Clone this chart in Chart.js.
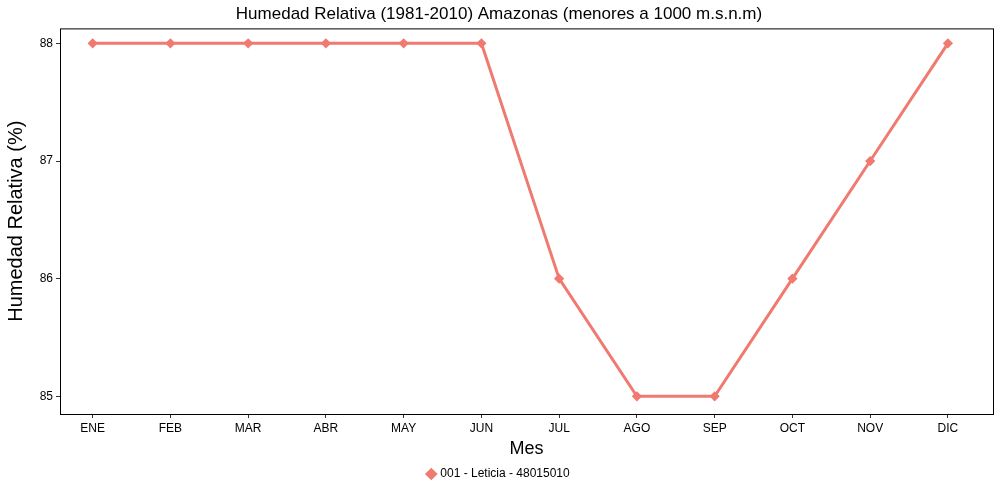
<!DOCTYPE html>
<html lang="es">
<head>
  <meta charset="UTF-8">
  <title>Humedad Relativa Amazonas</title>
  <script src="https://cdn.jsdelivr.net/npm/chart.js"></script>
  <style>
    body{margin:0;background:#fff;}
    #wrap{width:1000px;height:500px;}
  </style>
</head>
<body>
  <div id="wrap"><canvas id="humChart"></canvas></div>
  <script>
    // datos
    const meses = ['ENE','FEB','MAR','ABR','MAY','JUN','JUL','AGO','SEP','OCT','NOV','DIC'];
    const humedad = [88, 88, 88, 88, 88, 88, 86, 85, 85, 86, 87, 88];
    const yTicks = [85, 86, 87, 88];
    const serie = '001 - Leticia - 48015010';
    const color = '#F07A70';

    // borde negro alrededor del area del grafico
    const panelBorder = {
      id: 'panelBorder',
      afterDraw(chart) {
        const a = chart.chartArea, ctx = chart.ctx;
        ctx.save();
        ctx.strokeStyle = '#000';
        ctx.lineWidth = 1;
        ctx.strokeRect(a.left + 0.5, a.top + 0.5, a.right - a.left, a.bottom - a.top);
        ctx.restore();
      }
    };

    const ctx = document.getElementById('humChart').getContext('2d');
    new Chart(ctx, {
      type: 'line',
      data: {
        datasets: [{
          label: serie,
          data: humedad.map((v, i) => ({x: i, y: v})),
          borderColor: color,
          backgroundColor: color,
          borderWidth: 3,
          pointStyle: 'rectRot',
          pointRadius: 3,
          tension: 0
        }]
      },
      plugins: [panelBorder],
      options: {
        responsive: true,
        maintainAspectRatio: false,
        animation: false,
        layout: {padding: {left: 4, right: 6, top: 2, bottom: 10}},
        plugins: {
          title: {
            display: true,
            text: 'Humedad Relativa (1981-2010) Amazonas (menores a 1000 m.s.n.m)',
            color: '#000',
            font: {family: 'Arial, Liberation Sans', size: 17, weight: 'normal'},
            padding: {top: 2, bottom: 4}
          },
          legend: {
            position: 'bottom',
            labels: {
              color: '#000',
              font: {family: 'Arial, Liberation Sans', size: 12},
              usePointStyle: true,
              pointStyle: 'rectRot',
              boxWidth: 6,
              boxHeight: 6,
              padding: 6
            }
          },
          tooltip: {enabled: false}
        },
        scales: {
          x: {
            type: 'linear',
            min: -0.42,
            max: 11.58,
            afterBuildTicks: s => { s.ticks = meses.map((m, i) => ({value: i})); },
            ticks: {
              autoSkip: false,
              maxRotation: 0,
              color: '#000',
              font: {family: 'Arial, Liberation Sans', size: 12}, 
              callback: v => meses[v]
            },
            grid: {drawOnChartArea: false, tickLength: 4, color: '#333'},
            border: {display: false},
            title: {
              display: true,
              text: 'Mes',
              color: '#000',
              font: {family: 'Arial, Liberation Sans', size: 18},
              padding: {top: 0, bottom: 2}
            }
          },
          y: {
            min: 84.85,
            max: 88.127,
            afterBuildTicks: s => { s.ticks = yTicks.map(v => ({value: v})); },
            afterFit: s => { s.width = 56; },
            ticks: {
              color: '#000',
              font: {family: 'Arial, Liberation Sans', size: 12}
            },
            grid: {drawOnChartArea: false, tickLength: 4, color: '#333'},
            border: {display: false},
            title: {
              display: true,
              text: 'Humedad Relativa (%)',
              color: '#000',
              font: {family: 'Arial, Liberation Sans', size: 20},
              padding: {top: 0, bottom: 4}
            }
          }
        }
      }
    });
  </script>
</body>
</html>
